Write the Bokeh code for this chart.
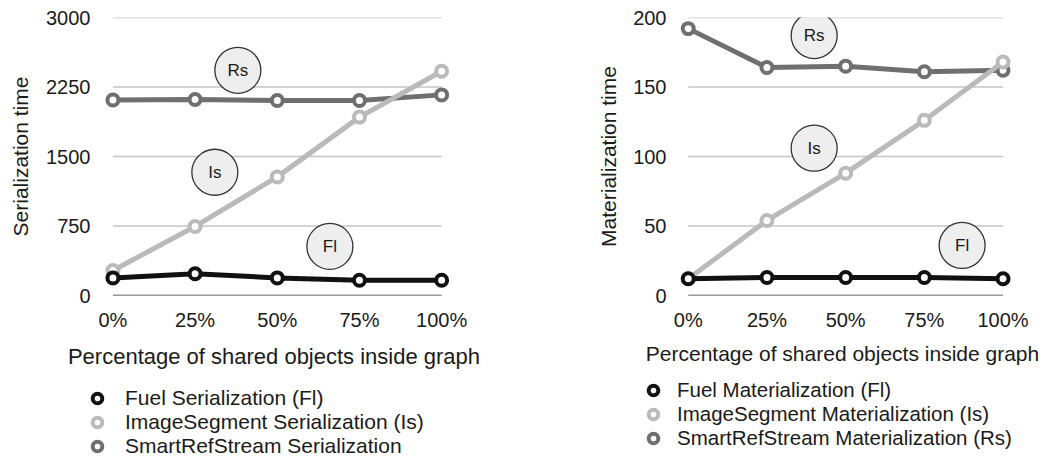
from bokeh.plotting import figure
from bokeh.layouts import row, column
from bokeh.models import Range1d, FixedTicker, Legend, LegendItem
from bokeh.embed import file_html
from bokeh.resources import INLINE
from bokeh.core.properties import value

# ---- data ----
x_pct = [0, 25, 50, 75, 100]
x_tick_labels = ["0%", "25%", "50%", "75%", "100%"]

ser_fuel = [190, 235, 190, 165, 165]
ser_image = [270, 745, 1280, 1925, 2420]
ser_smartref = [2110, 2115, 2105, 2105, 2165]
ser_yticks = [0, 750, 1500, 2250, 3000]

mat_fuel = [12, 13, 13, 13, 12]
mat_image = [12, 54, 88, 126, 168]
mat_smartref = [192, 164, 165, 161, 162]
mat_yticks = [0, 50, 100, 150, 200]

ser_legend = ["Fuel Serialization (Fl)", "ImageSegment Serialization (Is)",
              "SmartRefStream Serialization"]
mat_legend = ["Fuel Materialization (Fl)", "ImageSegment Materialization (Is)",
              "SmartRefStream Materialization (Rs)"]

tags = ["Fl", "Is", "Rs"]
ser_tag_x = [66, 31, 38]
ser_tag_y = [530, 1330, 2430]
mat_tag_x = [87, 40, 40]
mat_tag_y = [36, 106, 187]

FONT = "Liberation Sans"
TXT = "#1a1a1a"
COL_FUEL = "#111111"
COL_IMAGE = "#bababa"
COL_SMART = "#6f6f6f"
PLOT_H = 376
LEG_H = 84


def marker_style(col):
    return dict(size=11, fill_color="white", line_color=col, line_width=4)


def make_chart(width, yticks, fuel, image, smart, ytitle, tag_x, tag_y,
               mb_left, mb_right, mb_top, mb_bottom,
               ylab_standoff, ytitle_standoff, xlab_standoff, xtitle_standoff, xtitle_size):
    p = figure(width=width, height=PLOT_H, output_backend="svg", toolbar_location=None,
               x_range=Range1d(-5, 103), y_range=Range1d(yticks[0], yticks[-1]),
               min_border_left=mb_left, min_border_top=mb_top,
               min_border_right=mb_right, min_border_bottom=mb_bottom)
    p.outline_line_color = None
    p.xgrid.visible = False
    p.ygrid.visible = False

    n = len(yticks)
    p.segment(x0=[x_pct[0]] * n, x1=[x_pct[-1]] * n, y0=yticks, y1=yticks,
              line_color=["#333333"] + ["#c4c4c4"] * (n - 1), line_width=1.3)

    for ys, col in [(smart, COL_SMART), (image, COL_IMAGE), (fuel, COL_FUEL)]:
        p.line(x_pct, ys, line_color=col, line_width=5)
        p.scatter(x_pct, ys, **marker_style(col))

    p.scatter(tag_x, tag_y, size=46, fill_color="#eeeeee", line_color="#333333", line_width=1.3)
    p.text(tag_x, tag_y, text=tags, text_align="center", text_baseline="middle",
           text_font=value(FONT), text_font_size="17px", text_color=TXT)

    p.xaxis.ticker = FixedTicker(ticks=x_pct)
    p.xaxis.major_label_overrides = {x: l for x, l in zip(x_pct, x_tick_labels)}
    p.yaxis.ticker = FixedTicker(ticks=yticks)
    for ax in (p.xaxis, p.yaxis):
        ax.axis_line_color = None
        ax.major_tick_line_color = None
        ax.minor_tick_line_color = None
        ax.major_label_text_font = FONT
        ax.major_label_text_font_size = "20px"
        ax.major_label_text_color = TXT
        ax.axis_label_text_font = FONT
        ax.axis_label_text_font_size = "21px"
        ax.axis_label_text_font_style = "normal"
        ax.axis_label_text_color = TXT
    p.xaxis.axis_label_text_font_size = xtitle_size
    p.xaxis.major_label_standoff = xlab_standoff
    p.yaxis.major_label_standoff = ylab_standoff
    p.xaxis.axis_label = "Percentage of shared objects inside graph"
    p.xaxis.axis_label_standoff = xtitle_standoff
    p.yaxis.axis_label = ytitle
    p.yaxis.axis_label_standoff = ytitle_standoff
    return p


left = make_chart(512, ser_yticks, ser_fuel, ser_image, ser_smartref,
                  "Serialization time", ser_tag_x, ser_tag_y,
                  96, 61, 15, PLOT_H - 15 - 282, 0, 11, 7, 10, "22px")
right = make_chart(540, mat_yticks, mat_fuel, mat_image, mat_smartref,
                   "Materialization time", mat_tag_x, mat_tag_y,
                   160, 40, 17, PLOT_H - 17 - 278, 0, 10, 7, 8, "21px")

# ---- legends, in a strip below both charts ----
q = figure(width=1052, height=LEG_H, output_backend="svg", toolbar_location=None,
           x_range=Range1d(0, 1), y_range=Range1d(0, 1),
           x_axis_location=None, y_axis_location=None,
           min_border_left=0, min_border_right=0, min_border_top=0, min_border_bottom=0)
q.outline_line_color = None
q.xgrid.visible = False
q.ygrid.visible = False

for labels, loc, standoff, fsize in [(ser_legend, (84, 2), 15, "21px"),
                                     (mat_legend, (640, 10), 11, "20.5px")]:
    # hidden sample points (outside the strip's range) that give the legend its glyphs
    rends = [q.scatter([-1], [-1], **marker_style(c)) for c in [COL_FUEL, COL_IMAGE, COL_SMART]]
    items = [LegendItem(label=l, renderers=[r]) for l, r in zip(labels, rends)]
    lg = Legend(items=items, orientation="vertical", location=loc,
                border_line_color=None, background_fill_alpha=0,
                label_text_font=FONT, label_text_font_size=fsize, label_text_color=TXT,
                glyph_width=26, glyph_height=24, label_height=24, spacing=0,
                label_standoff=standoff, padding=0, margin=0)
    q.add_layout(lg, "center")

layout = column(row(left, right), q)
open("out.html", "w").write(file_html(layout, INLINE))
